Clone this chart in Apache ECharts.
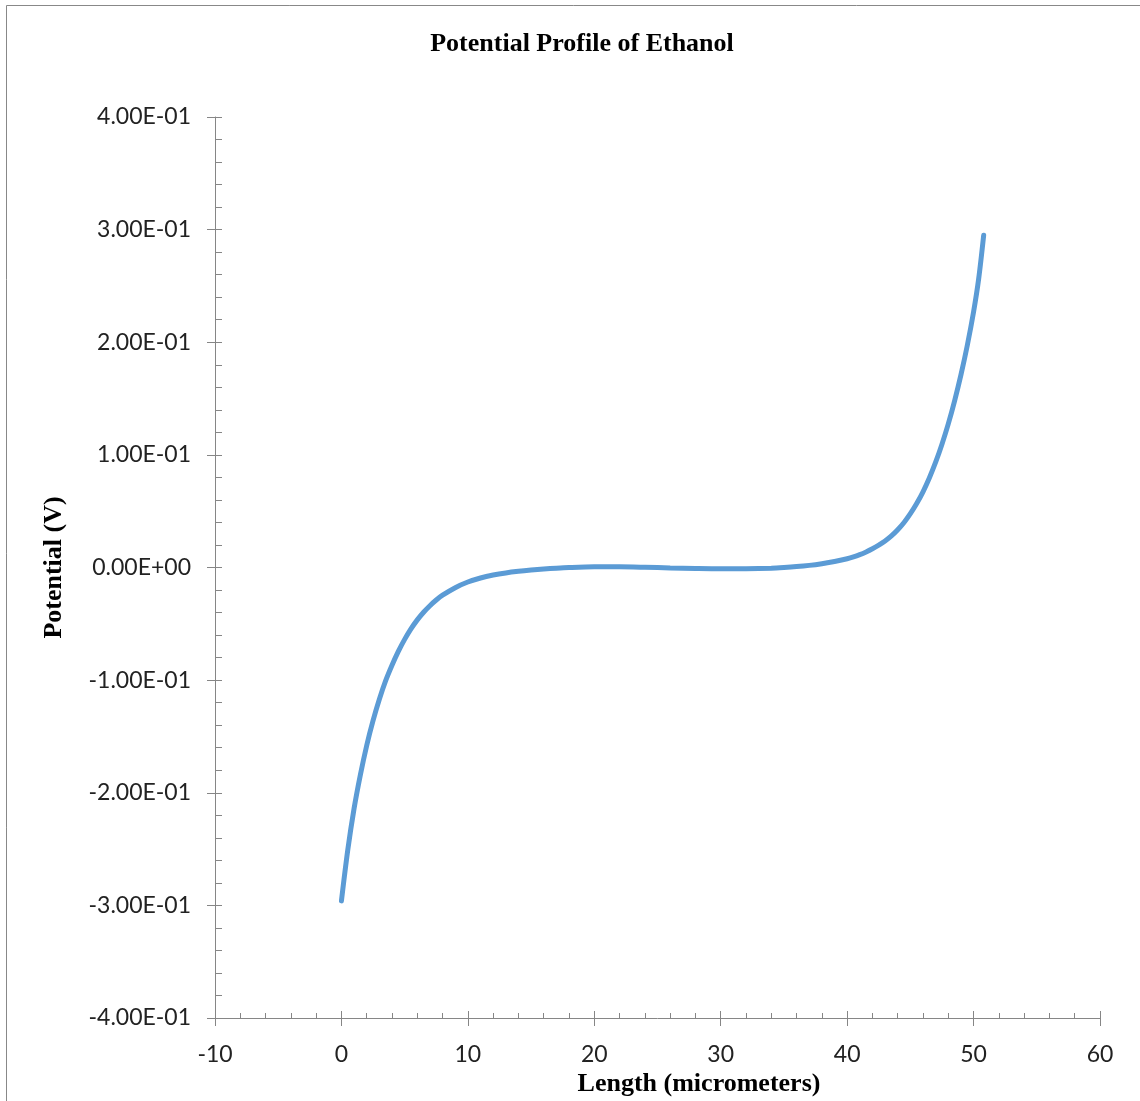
<!DOCTYPE html>
<html>
<head>
<meta charset="utf-8">
<script src="https://cdn.jsdelivr.net/npm/echarts@6/dist/echarts.min.js"></script>
<style>html,body{margin:0;padding:0;background:#fff;}#c{width:1140px;height:1101px;}</style>
</head>
<body>
<div id="c"></div>
<script>
const lengthUm = [0, 0.5, 1, 1.5, 2, 2.5, 3, 3.5, 4, 4.5, 5, 5.5, 6, 6.5, 7, 7.5, 8, 9, 10, 11, 12, 13, 14, 15, 16, 17, 18, 20, 22, 24, 26, 28, 30, 32, 34, 35, 36, 37, 38, 39, 40, 40.5, 41, 41.5, 42, 42.5, 43, 43.5, 44, 44.5, 45, 45.5, 46, 46.5, 47, 47.5, 48, 48.5, 49, 49.5, 50, 50.4, 50.8];
const potentialV = [-0.296, -0.251, -0.214, -0.184, -0.158, -0.136, -0.117, -0.1005, -0.0868, -0.0745, -0.0638, -0.0545, -0.0465, -0.0397, -0.0339, -0.0289, -0.0246, -0.0179, -0.0129, -0.0093, -0.0067, -0.0048, -0.0034, -0.0023, -0.0014, -0.0006, 0.0000, 0.0006, 0.0006, 0.0002, -0.0004, -0.0009, -0.0012, -0.0011, -0.0006, 0.0000, 0.0008, 0.0019, 0.0034, 0.0053, 0.0078, 0.0094, 0.0114, 0.0138, 0.0166, 0.0198, 0.0235, 0.0280, 0.0335, 0.0400, 0.0478, 0.0568, 0.0672, 0.0795, 0.0935, 0.1095, 0.1275, 0.148, 0.171, 0.197, 0.227, 0.256, 0.295];
const titleText = 'Potential Profile of Ethanol';
const xName = 'Length (micrometers)';
const yName = 'Potential (V)';

function sci(v) {
  if (Math.abs(v) < 1e-12) v = 0;
  const s = v.toExponential(2);
  const [m, e] = s.split('e');
  const sign = e[0] === '-' ? '-' : '+';
  let d = e.replace('+', '').replace('-', '');
  if (d.length < 2) d = '0' + d;
  return m + 'E' + sign + d;
}

const axisColor = '#868686';
const serif = '"Liberation Serif", "Times New Roman", serif';
const labelFont = { fontFamily: 'Lato, "Open Sans", sans-serif', fontSize: 23, color: '#222' };
const grid = { left: 215, right: 40, top: 117, bottom: 83, containLabel: false, outerBoundsMode: 'none' };

const chart = echarts.init(document.getElementById('c'), null, { renderer: 'canvas' });
chart.setOption({
  backgroundColor: '#fff',
  animation: false,
  title: {
    text: titleText, left: 577, top: 26, textAlign: 'center',
    textStyle: { fontFamily: serif, fontWeight: 'bold', fontSize: 26, color: '#000' }
  },
  graphic: [
    { type: 'line', shape: { x1: 6.5, y1: 5.5, x2: 1140, y2: 5.5 }, style: { stroke: '#888', lineWidth: 1 } },
    { type: 'line', shape: { x1: 6.5, y1: 5.5, x2: 6.5, y2: 1101 }, style: { stroke: '#888', lineWidth: 1 } }
  ],
  grid: grid,
  xAxis: [
    {
      type: 'value', min: -10, max: 60, interval: 10, position: 'bottom',
      name: xName, nameLocation: 'middle', nameGap: 44,
      nameTextStyle: { fontFamily: serif, fontWeight: 'bold', fontSize: 26, color: '#000', padding: [0, 0, 0, 83] },
      axisLine: { show: true, onZero: false, lineStyle: { color: axisColor, width: 1 } },
      axisTick: { show: true, inside: true, length: 7, lineStyle: { color: axisColor } },
      minorTick: { show: true, splitNumber: 5, length: 5, lineStyle: { color: axisColor } },
      axisLabel: Object.assign({ margin: 25 }, labelFont),
      splitLine: { show: false }
    },
    {
      type: 'value', min: -10, max: 60, interval: 10, position: 'bottom',
      axisLine: { show: false, onZero: false },
      axisTick: { show: true, inside: false, length: 8, lineStyle: { color: axisColor } },
      axisLabel: { show: false },
      splitLine: { show: false }
    }
  ],
  yAxis: [
    {
      type: 'value', min: -0.4, max: 0.4, interval: 0.1, position: 'left',
      name: yName, nameLocation: 'middle', nameGap: 148, nameRotate: 90,
      nameTextStyle: { fontFamily: serif, fontWeight: 'bold', fontSize: 26, color: '#000' },
      axisLine: { show: true, onZero: false, lineStyle: { color: axisColor, width: 1 } },
      axisTick: { show: true, inside: true, length: 7, lineStyle: { color: axisColor } },
      minorTick: { show: true, splitNumber: 5, length: 7, lineStyle: { color: axisColor } },
      axisLabel: Object.assign({ margin: 24, formatter: sci }, labelFont),
      splitLine: { show: false }
    },
    {
      type: 'value', min: -0.4, max: 0.4, interval: 0.1, position: 'left',
      axisLine: { show: false, onZero: false },
      axisTick: { show: true, inside: false, length: 8, lineStyle: { color: axisColor } },
      axisLabel: { show: false },
      splitLine: { show: false }
    }
  ],
  series: [{
    type: 'line',
    xAxisIndex: 0, yAxisIndex: 0,
    data: lengthUm.map((x, i) => [x, potentialV[i]]),
    smooth: 0.3,
    showSymbol: false,
    lineStyle: { color: '#5B9BD5', width: 5, cap: 'round' },
    itemStyle: { color: '#5B9BD5' }
  }]
});
</script>
</body>
</html>
